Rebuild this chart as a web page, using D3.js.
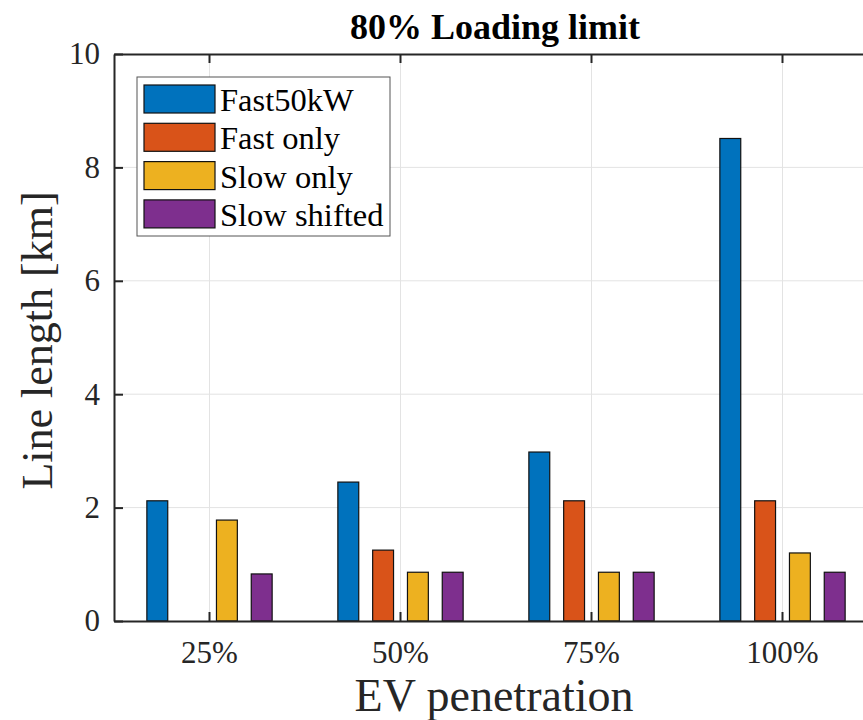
<!DOCTYPE html>
<html>
<head>
<meta charset="utf-8">
<script src="https://cdn.jsdelivr.net/npm/d3@7"></script>
<style>
  body { margin: 0; background: #fff; }
  text { font-family: "Liberation Serif", "Times New Roman", serif; }
</style>
</head>
<body>
<div id="bar_plot"></div>
<script>
// chart data
var categories = ["25%", "50%", "75%", "100%"];
var seriesNames = ["Fast50kW", "Fast only", "Slow only", "Slow shifted"];
var fast50kW    = [2.12, 2.45, 2.98, 8.51];
var fastOnly    = [0, 1.25, 2.12, 2.12];
var slowOnly    = [1.78, 0.86, 0.86, 1.2];
var slowShifted = [0.83, 0.86, 0.86, 0.86];
var yTicks = [0, 2, 4, 6, 8, 10];
var colors = ["#0072BD", "#D95319", "#EDB120", "#7E2F8E"];

var seriesValues = [fast50kW, fastOnly, slowOnly, slowShifted];

// set the dimensions and margins of the graph
var margin = {top: 54, left: 114},
    width = 764,
    height = 567;

var svg = d3.select("#bar_plot")
  .append("svg")
    .attr("width", 863)
    .attr("height", 720)
  .append("g")
    .attr("transform", "translate(" + margin.left + "," + margin.top + ")");

// scales
var x = d3.scaleBand()
  .domain(categories)
  .range([0, width]);

var x1 = d3.scaleBand()
  .domain(seriesNames)
  .range([0, 139.2])
  .paddingInner(0.4)
  .paddingOuter(0.2);

var y = d3.scaleLinear()
  .domain([0, 10])
  .range([height, 0]);

// grid lines
svg.append("g")
  .selectAll("line.hgrid")
  .data(yTicks.slice(1, -1))
  .enter().append("line")
    .attr("x1", 0).attr("x2", width)
    .attr("y1", function(d) { return y(d); })
    .attr("y2", function(d) { return y(d); })
    .attr("stroke", "#e3e3e3")
    .attr("stroke-width", 1);

svg.append("g")
  .selectAll("line.vgrid")
  .data(categories)
  .enter().append("line")
    .attr("x1", function(d) { return x(d) + x.bandwidth() / 2; })
    .attr("x2", function(d) { return x(d) + x.bandwidth() / 2; })
    .attr("y1", 0).attr("y2", height)
    .attr("stroke", "#e3e3e3")
    .attr("stroke-width", 1);

// bars
var groups = svg.append("g")
  .selectAll("g")
  .data(categories)
  .enter().append("g")
    .attr("transform", function(d) {
      return "translate(" + (x(d) + x.bandwidth() / 2 - 69.6) + ",0)";
    });

groups.selectAll("rect")
  .data(function(d, i) {
    return seriesNames.map(function(s, j) {
      return {name: s, value: seriesValues[j][i], color: colors[j]};
    });
  })
  .enter().append("rect")
    .attr("x", function(d) { return x1(d.name); })
    .attr("width", x1.bandwidth())
    .attr("y", function(d) { return y(d.value); })
    .attr("height", function(d) { return height - y(d.value); })
    .attr("fill", function(d) { return d.color; })
    .attr("stroke", function(d) { return d.value > 0 ? "#111" : "none"; })
    .attr("stroke-width", 1.2);

// axes
var axisColor = "#262626";

var yAxis = svg.append("g")
  .call(d3.axisLeft(y).tickValues(yTicks).tickSizeInner(-9).tickSizeOuter(0).tickPadding(14));
yAxis.selectAll("text")
  .attr("font-size", 31)
  .attr("font-family", "Liberation Serif")
  .attr("fill", axisColor);

var xAxis = svg.append("g")
  .attr("transform", "translate(0," + height + ")")
  .call(d3.axisBottom(x).tickSizeInner(-9).tickSizeOuter(0).tickPadding(20));
xAxis.selectAll("text")
  .attr("font-size", 31)
  .attr("font-family", "Liberation Serif")
  .attr("fill", axisColor);

var xTop = svg.append("g")
  .call(d3.axisTop(x).tickSizeInner(-9).tickSizeOuter(0).tickFormat(""));

svg.selectAll(".domain, .tick line")
  .attr("stroke", axisColor)
  .attr("stroke-width", 2);

// axis labels and title
svg.append("text")
  .attr("x", width / 2 - 2)
  .attr("y", 657)
  .attr("text-anchor", "middle")
  .attr("font-size", 46)
  .attr("fill", axisColor)
  .text("EV penetration");

svg.append("text")
  .attr("transform", "translate(" + (-62) + "," + (height / 2 + 3) + ") rotate(-90)")
  .attr("text-anchor", "middle")
  .attr("font-size", 44)
  .attr("fill", axisColor)
  .text("Line length [km]");

svg.append("text")
  .attr("x", width / 2 - 1)
  .attr("y", -15)
  .attr("text-anchor", "middle")
  .attr("font-size", 36)
  .attr("font-weight", "bold")
  .attr("fill", "#000")
  .text("80% Loading limit");

// legend
var legend = svg.append("g")
  .attr("transform", "translate(23,23)");

legend.append("rect")
  .attr("width", 253)
  .attr("height", 159)
  .attr("fill", "#fff")
  .attr("stroke", "#555")
  .attr("stroke-width", 1);

var items = legend.selectAll("g")
  .data(seriesNames)
  .enter().append("g")
    .attr("transform", function(d, i) { return "translate(7," + (8 + i * 38.3) + ")"; });

items.append("rect")
  .attr("width", 71)
  .attr("height", 28)
  .attr("fill", function(d, i) { return colors[i]; })
  .attr("stroke", "#111")
  .attr("stroke-width", 1.2);

items.append("text")
  .attr("x", 76)
  .attr("y", 26)
  .attr("font-size", 32.5)
  .attr("fill", "#000")
  .text(function(d) { return d; });
</script>
</body>
</html>
